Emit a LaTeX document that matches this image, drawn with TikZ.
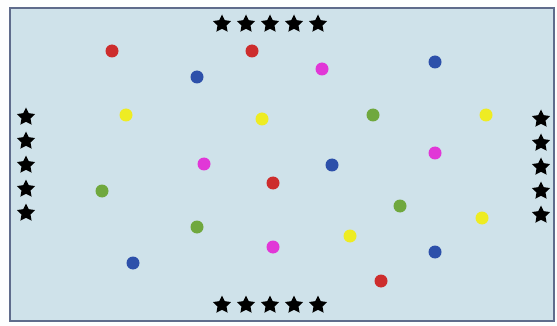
\documentclass[tikz,border=0pt]{standalone}
\usetikzlibrary{shapes.geometric}
\definecolor{fieldbg}{RGB}{207,226,234}
\definecolor{fieldedge}{RGB}{95,108,140}
\definecolor{dred}{RGB}{205,45,45}
\definecolor{dblue}{RGB}{45,80,170}
\definecolor{dmag}{RGB}{225,55,215}
\definecolor{dyel}{RGB}{238,236,35}
\definecolor{dgrn}{RGB}{112,168,62}
\tikzset{
  starmark/.style={star, star points=5, star point ratio=2.0, fill=black, draw=none, inner sep=0pt, minimum size=19pt},
  dot/.style={circle, fill=#1, draw=none, inner sep=0pt, minimum size=13pt},
}
\begin{document}
\begin{tikzpicture}[x=1pt,y=-1pt]
\useasboundingbox (0,0) rectangle (557,326);
\fill[white!96!fieldbg] (0,0) rectangle (557,326);
\draw[fieldedge, line width=2pt, fill=fieldbg] (10,8) rectangle (554,321);
% stars
\foreach \i/\x in {1/222,2/246,3/270,4/294,5/318}{
  \node[starmark] (top\i) at (\x,24) {};
  \node[starmark] (bot\i) at (\x,305) {};
}
\foreach \i/\y in {1/117,2/141,3/165,4/189,5/213}{
  \node[starmark] (lft\i) at (26,\y) {};
}
\foreach \i/\y in {1/119,2/143,3/167,4/191,5/215}{
  \node[starmark] (rgt\i) at (541,\y) {};
}
% dots
\node[dot=dred] (red1) at (112,51) {};
\node[dot=dred] (red2) at (252,51) {};
\node[dot=dred] (red3) at (273,183) {};
\node[dot=dred] (red4) at (381,281) {};
\node[dot=dblue] (blu1) at (197,77) {};
\node[dot=dblue] (blu2) at (435,62) {};
\node[dot=dblue] (blu3) at (332,165) {};
\node[dot=dblue] (blu4) at (435,252) {};
\node[dot=dblue] (blu5) at (133,263) {};
\node[dot=dmag] (mag1) at (322,69) {};
\node[dot=dmag] (mag2) at (204,164) {};
\node[dot=dmag] (mag3) at (435,153) {};
\node[dot=dmag] (mag4) at (273,247) {};
\node[dot=dyel] (yel1) at (126,115) {};
\node[dot=dyel] (yel2) at (262,119) {};
\node[dot=dyel] (yel3) at (486,115) {};
\node[dot=dyel] (yel4) at (482,218) {};
\node[dot=dyel] (yel5) at (350,236) {};
\node[dot=dgrn] (grn1) at (373,115) {};
\node[dot=dgrn] (grn2) at (102,191) {};
\node[dot=dgrn] (grn3) at (400,206) {};
\node[dot=dgrn] (grn4) at (197,227) {};
\end{tikzpicture}
\end{document}
